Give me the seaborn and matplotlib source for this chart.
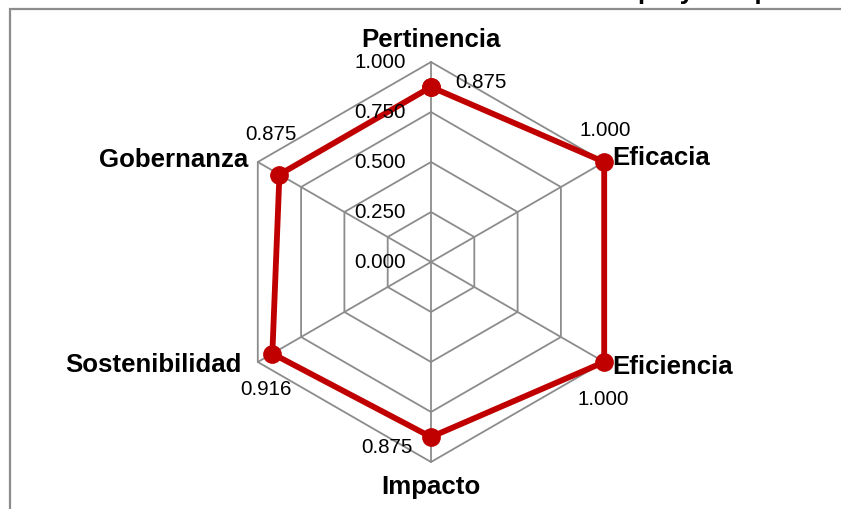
import numpy as np
import pandas as pd
import matplotlib
matplotlib.use("Agg")
import matplotlib.pyplot as plt
import seaborn as sns

# data
criterios = ["Pertinencia", "Eficacia", "Eficiencia", "Impacto", "Sostenibilidad", "Gobernanza"]
puntajes = [0.875, 1.000, 1.000, 0.875, 0.916, 0.875]
niveles = [0.0, 0.25, 0.50, 0.75, 1.0]
titulo = "Gráfico 9. Resultados consolidados de la evaluación del proyecto por criterio"

sns.set_style("white")
plt.rcParams['font.family'] = ['Liberation Sans', 'DejaVu Sans']
plt.rcParams['text.color'] = 'black'

W, H = 841, 510
fig = plt.figure(figsize=(W / 100, H / 100), dpi=100)

# outer frame (chart area border)
fig.patches.append(plt.Rectangle((9.5 / W, -0.1), 1.2, 1 - 9.5 / H + 0.1,
                                 transform=fig.transFigure, fill=False,
                                 edgecolor="#8c8c8c", lw=1.6))

# caption, cut off at the top edge like in the original
fig.text(-60 / W, 1 + 1.5 / H, titulo, fontsize=18.6, fontweight="bold",
         ha="left", va="baseline")

cx, cy, R = 431, 263, 200
ax = fig.add_axes([(cx - R) / W, (H - cy - R) / H, 2 * R / W, 2 * R / H], projection="polar")
ax.set_theta_zero_location("N")
ax.set_theta_direction(-1)
ax.set_ylim(0, 1)
ax.grid(False)
ax.set_xticks([])
ax.set_yticks([])
ax.spines["polar"].set_visible(False)
ax.patch.set_alpha(0)

n = len(criterios)
ang = np.linspace(0, 2 * np.pi, n, endpoint=False)
ang_c = np.append(ang, ang[0])

# hexagon grid + spokes
grid_col = "#8c8c8c"
for lv in niveles[1:]:
    ax.plot(ang_c, [lv] * (n + 1), color=grid_col, lw=1.3, zorder=1, clip_on=False)
for a in ang:
    ax.plot([a, a], [0, 1], color=grid_col, lw=1.3, zorder=1, clip_on=False)

# series
df = pd.DataFrame({"ang": np.append(ang, 2 * np.pi), "valor": puntajes + [puntajes[0]]})
sns.lineplot(data=df, x="ang", y="valor", ax=ax, sort=False, color="#C00000",
             lw=4.2, marker="o", markersize=13.5, markeredgewidth=0, zorder=3,
             clip_on=False)
ax.set_xlabel("")
ax.set_ylabel("")

# radial tick labels
for lv in niveles:
    ax.annotate(f"{lv:.3f}", xy=(0, lv), xytext=(-25, 0), textcoords="offset pixels",
                ha="right", va="center", fontsize=14.8, zorder=4)

# category labels
cat_off = [(0, 23, "center"), (8, 5, "left"), (8, -4, "left"),
           (0, -24, "center"), (-16, -2, "right"), (-10, 3, "right")]
for a, nombre, (dx, dy, ha) in zip(ang, criterios, cat_off):
    ax.annotate(nombre, xy=(a, 1.0), xytext=(dx, dy), textcoords="offset pixels",
                ha=ha, va="center", fontsize=18.6, fontweight="bold",
                annotation_clip=False)

# value labels
val_off = [(24, 6, "left"), (1, 33, "center"), (-1, -37, "center"),
           (-18, -10, "right"), (-6, -35, "center"), (-9, 41, "center")]
for a, v, (dx, dy, ha) in zip(ang, puntajes, val_off):
    ax.annotate(f"{v:.3f}", xy=(a, v), xytext=(dx, dy), textcoords="offset pixels",
                ha=ha, va="center", fontsize=14.8, zorder=4, annotation_clip=False)

fig.savefig("out.png", dpi=100)
